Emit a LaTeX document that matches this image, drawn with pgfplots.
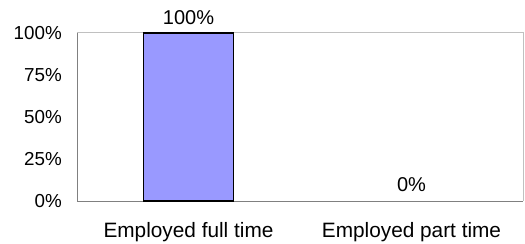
\documentclass[border=0pt]{standalone}
\usepackage{pgfplots}
\pgfplotsset{compat=1.18}
\usepackage{fontspec}
\setmainfont{Liberation Sans}
\definecolor{barfill}{HTML}{9999FF}
\definecolor{axdark}{HTML}{808080}
\definecolor{axlight}{HTML}{C0C0C0}
\begin{document}
\begin{tikzpicture}
\useasboundingbox (0,0) rectangle (525bp,244bp);
\begin{axis}[
  at={(77bp,43bp)}, anchor=south west,
  scale only axis, width=446bp, height=168bp,
  xmin=-0.5, xmax=1.5, ymin=0, ymax=100,
  xtick={0,1}, xticklabels={Employed full time, Employed part time},
  ytick={0,25,50,75,100},
  yticklabel={\pgfmathprintnumber{\tick}\%},
  /pgf/number format/assume math mode=true,
  major tick length=0pt,
  axis x line*=bottom, axis y line*=left,
  axis line style={draw=axdark, line width=1pt, -},
  xticklabel style={anchor=north, inner sep=0pt, yshift=-21bp, font=\fontsize{20.8bp}{23bp}\selectfont},
  yticklabel style={anchor=east, inner sep=0pt, xshift=-15bp, font=\fontsize{18.8bp}{21bp}\selectfont},
  ybar, bar width=90bp, bar shift=0pt,
  clip=false,
]
\draw[axlight, line width=1pt] (rel axis cs:0,1) -- (rel axis cs:1,1) -- (rel axis cs:1,0);
\addplot[fill=barfill, draw=black, line width=1.6pt,
  nodes near coords={\pgfmathprintnumber{\pgfplotspointmeta}\%},
  nodes near coords style={anchor=south, inner sep=0pt, yshift=8bp, font=\fontsize{20bp}{22bp}\selectfont, /pgf/number format/assume math mode=true}]
  coordinates {(0,100)};
\addplot[fill=none, draw=none,
  nodes near coords={\pgfmathprintnumber{\pgfplotspointmeta}\%},
  nodes near coords style={anchor=south, inner sep=0pt, yshift=9bp, font=\fontsize{20bp}{22bp}\selectfont, /pgf/number format/assume math mode=true}]
  coordinates {(1,0)};
\end{axis}
\end{tikzpicture}
\end{document}
